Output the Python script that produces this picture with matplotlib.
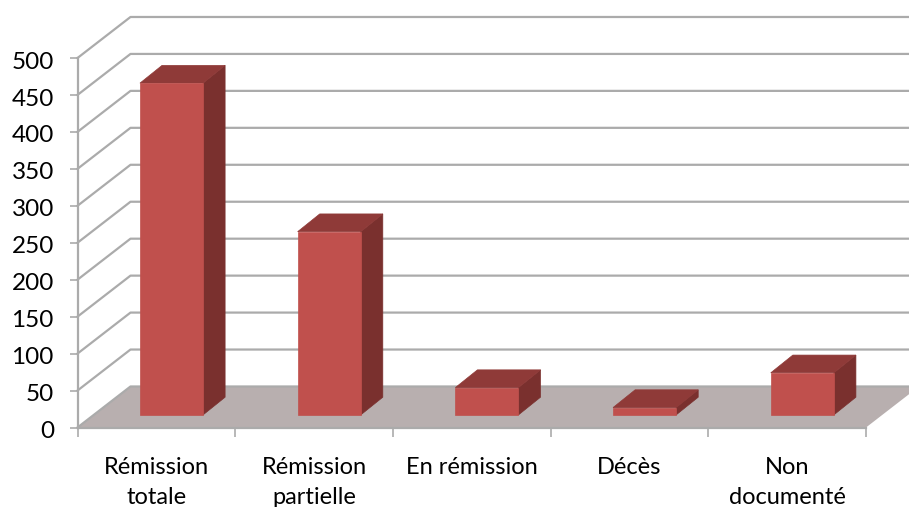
import matplotlib.pyplot as plt
from matplotlib.transforms import ScaledTranslation

categories = ["Rémission\ntotale", "Rémission\npartielle", "En rémission", "Décès", "Non\ndocumenté"]
values = [449, 248, 37, 10, 57]
y_ticks = [0, 50, 100, 150, 200, 250, 300, 350, 400, 450, 500]

FRONT = "#C0504D"
TOP = "#8F3A38"
SIDE = "#7A302E"
FLOOR = "#B8AFAF"
GRID = "#ABABAB"

# fake 3d depth, in data units
WALL_DX = 0.336
WALL_DY = 55.5
BAR_DX = 0.14
BAR_DY = 24
BAR_LIFT = 17
BAR_LEFT = 0.396
BAR_W = 0.40

plt.rcParams['font.family'] = ['Lato', 'DejaVu Sans']

W, H = 909, 507
fig = plt.figure(figsize=(W / 100, H / 100), dpi=100)
ax = fig.add_axes([77.5 / W, 1 - 427.5 / H, (866 - 77.5) / W, 369.5 / H])
ax.set_xlim(0, 5)
ax.set_ylim(0, 500)

# floor
ax.fill([0, WALL_DX, 5 + WALL_DX, 5], [0, WALL_DY, WALL_DY, 0], color=FLOOR, lw=0, clip_on=False, zorder=1)

# gridlines on the side and back walls
for v in y_ticks:
    ax.plot([0, WALL_DX, 5 + WALL_DX], [v, v + WALL_DY, v + WALL_DY], color=GRID, lw=1.6, clip_on=False, zorder=2)

for i, v in enumerate(values):
    x0 = i + BAR_LEFT
    x1 = x0 + BAR_W
    y0 = BAR_LIFT
    y1 = BAR_LIFT + v
    ax.fill([x1, x1 + BAR_DX, x1 + BAR_DX, x1], [y0, y0 + BAR_DY, y1 + BAR_DY, y1], color=SIDE, lw=0.5, zorder=3)
    ax.fill([x0, x0 + BAR_DX, x1 + BAR_DX, x1], [y1, y1 + BAR_DY, y1 + BAR_DY, y1], color=TOP, lw=0.5, zorder=3)
    ax.fill([x0, x1, x1, x0], [y0, y0, y1, y1], color=FRONT, lw=0.5, zorder=4)

ax.set_xticks(range(6))
ax.set_xticklabels([])
ax.set_xticks([i + 0.5 for i in range(5)], categories, minor=True, fontsize=17, color="black", linespacing=1.55)
ax.tick_params(axis='x', which='minor', length=0, pad=21)
ax.tick_params(axis='x', which='major', length=6.5, width=1.2, color=GRID)
ax.set_yticks(y_ticks)
ax.tick_params(axis='y', length=6, width=1.2, color=GRID, labelsize=17.5, pad=11)

# y labels sit a touch lower than the ticks
shift = ScaledTranslation(0, -1.5 / 72, fig.dpi_scale_trans)
for lab in ax.get_yticklabels():
    lab.set_transform(lab.get_transform() + shift)

ax.patch.set_visible(False)
ax.spines['top'].set_visible(False)
ax.spines['right'].set_visible(False)
ax.spines['left'].set_color(GRID)
ax.spines['bottom'].set_color(GRID)
ax.spines['left'].set_linewidth(1.6)
ax.spines['bottom'].set_linewidth(1.6)

fig.savefig("out.png", dpi=100)
